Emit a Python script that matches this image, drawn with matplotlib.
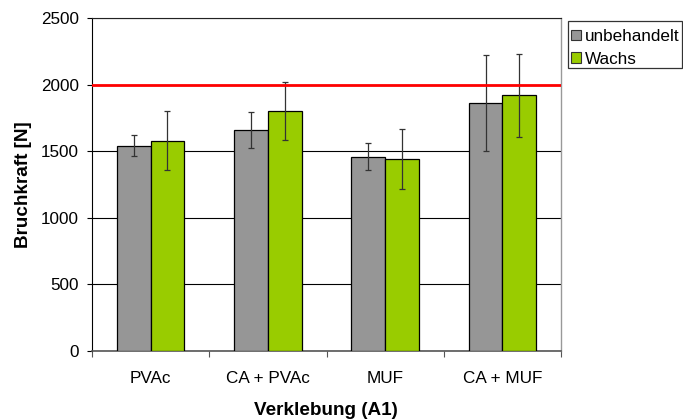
import matplotlib
matplotlib.use("Agg")
import matplotlib.pyplot as plt
import numpy as np
from matplotlib.patches import Rectangle

plt.rcParams['font.family'] = ['Liberation Sans', 'DejaVu Sans']

categories = ["PVAc", "CA + PVAc", "MUF", "CA + MUF"]
series_names = ["unbehandelt", "Wachs"]
unbehandelt = [1540, 1660, 1460, 1860]
unbehandelt_err = [78, 134, 100, 359]
wachs = [1580, 1800, 1440, 1920]
wachs_err = [222, 217, 225, 313]
reference_level = 2000
y_ticks = [0, 500, 1000, 1500, 2000, 2500]

colors = ["#969696", "#99CC00"]

W, H = 683, 419
fig = plt.figure(figsize=(W / 100, H / 100), dpi=100)
ax = fig.add_axes([92 / W, 1 - 351 / H, 469 / W, 333 / H])

x = np.arange(len(categories))
w = 0.287
for off, vals, errs, c, name in [(-w / 2, unbehandelt, unbehandelt_err, colors[0], series_names[0]),
                                 (w / 2, wachs, wachs_err, colors[1], series_names[1])]:
    ax.bar(x + off, vals, width=w, color=c, edgecolor="black", linewidth=0.9,
           label=name, zorder=3)
    ax.errorbar(x + off, vals, yerr=errs, fmt="none", ecolor="#333333",
                elinewidth=0.9, capsize=2.2, capthick=0.9, zorder=4)

ax.axhline(reference_level, color="#FF0000", linewidth=2.0, zorder=5)

ax.set_xlim(-0.5, len(categories) - 0.5)
ax.set_ylim(0, 2500)
ax.set_yticks(y_ticks)
ax.yaxis.grid(True, color="black", linewidth=0.8, zorder=0)
ax.set_axisbelow(True)

ax.set_xticks(x)
ax.set_xticklabels(categories, fontsize=12.3)
ax.set_xticks(np.arange(len(categories) + 1) - 0.5, minor=True)
ax.tick_params(axis="x", which="major", length=0, pad=14.4)
ax.tick_params(axis="x", which="minor", length=4, width=0.8, color="#555555", direction="out")
ax.tick_params(axis="y", length=3.6, width=0.8, direction="out", labelsize=12.3, pad=5.8)

ax.spines["top"].set_color("#222222")
ax.spines["top"].set_linewidth(0.8)
ax.spines["right"].set_color("#999999")
ax.spines["right"].set_linewidth(1.0)
ax.spines["left"].set_color("black")
ax.spines["bottom"].set_color("#555555")
ax.spines["bottom"].set_linewidth(1.2)

fig.text(24 / W, 1 - 184.5 / H, "Bruchkraft [N]", rotation=90, ha="center", va="center",
         fontsize=13.6, fontweight="bold")
fig.text(326 / W, (H - 414.5) / H, "Verklebung (A1)", ha="center", va="baseline",
         fontsize=13.6, fontweight="bold")

# legend frame drawn as a separate box so the entries can sit freely inside it
fig.patches.append(Rectangle((568 / W, 1 - 68 / H), 114 / W, 47 / H,
                             transform=fig.transFigure, facecolor="white",
                             edgecolor="#333333", linewidth=0.9, zorder=1))
handles = [Rectangle((0, 0), 1, 1, facecolor=c, edgecolor="#333333", linewidth=0.8) for c in colors]
leg = fig.legend(handles, series_names, loc="upper left", bbox_to_anchor=(568 / W, 1 - 26 / H),
                 frameon=False, fontsize=12.3, handlelength=0.58,
                 handleheight=0.58, handletextpad=0.23, borderpad=0.18,
                 labelspacing=0.45, borderaxespad=0)
leg.set_zorder(2)

fig.savefig("out.png", dpi=100)
